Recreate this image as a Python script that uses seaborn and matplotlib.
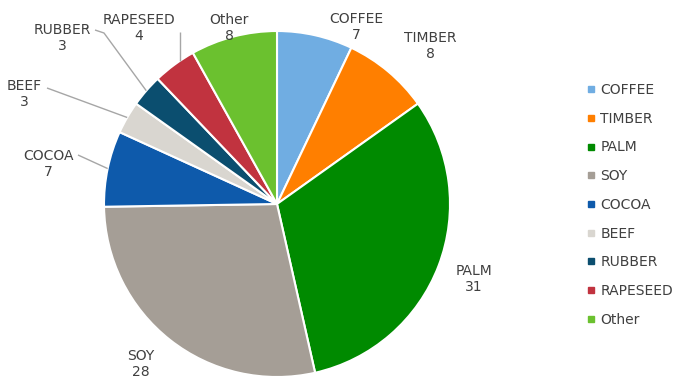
import matplotlib
matplotlib.use("Agg")
import matplotlib.pyplot as plt
from matplotlib.lines import Line2D
import numpy as np
import seaborn as sns

categories = ["COFFEE", "TIMBER", "PALM", "SOY", "COCOA", "BEEF", "RUBBER", "RAPESEED", "Other"]
values = [7, 8, 31, 28, 7, 3, 3, 4, 8]
colors = ["#70ADE2", "#FF7F00", "#008A00", "#A59E96", "#0E5AAB", "#D9D6D0", "#0B4E6F", "#C1333F", "#6BC12F"]

sns.set_style("white")
plt.rcParams['font.family'] = ['DejaVu Sans']

W, H = 676, 381
fig = plt.figure(figsize=(W / 100, H / 100), dpi=100)
ax = fig.add_axes([0, 0, 1, 1])

cx, cy, r = 277, H - 204, 173
wedges, _ = ax.pie(values, colors=colors, startangle=90, counterclock=False,
                   center=(cx, cy), radius=r, frame=True,
                   wedgeprops=dict(edgecolor='white', linewidth=1.5))
ax.set_xlim(0, W)
ax.set_ylim(0, H)
ax.set_aspect('equal')
ax.axis('off')

text_color = "#404040"
line_color = "#A6A6A6"
fs = 10

# label layout (pixel centers, top-down y) and leader anchors
label_pos = {
    "COFFEE": (356, 27), "TIMBER": (430, 46), "PALM": (474, 279), "SOY": (141, 364),
    "COCOA": (48, 164), "BEEF": (24, 94), "RUBBER": (62, 38), "RAPESEED": (139, 28),
    "Other": (229, 28),
}
leaders = {
    "COCOA": [(78, 155)],
    "BEEF": [(47, 88)],
    "RUBBER": [(95, 30), (104, 33)],
    "RAPESEED": [(180, 32)],
}

for w, cat, v in zip(wedges, categories, values):
    lx, ly = label_pos[cat]
    ax.text(lx, H - ly, f"{cat}\n{v}", ha='center', va='center', fontsize=fs,
            color=text_color, linespacing=1.1)
    if cat in leaders:
        mid = np.deg2rad((w.theta1 + w.theta2) / 2)
        ex, ey = cx + r * np.cos(mid), cy + r * np.sin(mid)
        pts = [(x, H - y) for x, y in leaders[cat]]
        if cat == "RAPESEED":
            pts.append((pts[0][0], ey + 4))
        else:
            pts.append((ex, ey))
        xs, ys = zip(*pts)
        ax.plot(xs, ys, color=line_color, lw=1, solid_capstyle='butt')

handles = [Line2D([0], [0], marker='s', linestyle='None', markersize=4,
                  markerfacecolor=c, markeredgecolor=c) for c in colors]
leg = ax.legend(handles, categories, loc='upper left',
                bbox_to_anchor=(580 / W, 1 - 76 / H), bbox_transform=fig.transFigure,
                frameon=False, fontsize=fs, labelspacing=1.06, handlelength=0.6,
                handletextpad=0.35, borderpad=0)
for t in leg.get_texts():
    t.set_color(text_color)

fig.savefig("out.png", dpi=100)
